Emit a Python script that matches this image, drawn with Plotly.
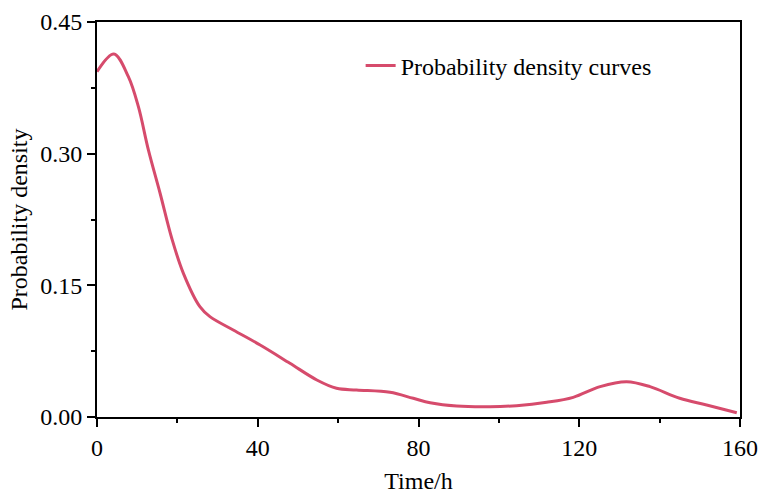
import plotly.graph_objects as go

time_h = [0, 4.2, 7.8, 10.3, 12.8, 15.7, 18.6, 21.5, 25.6, 28.1, 33.9, 40.6, 48.0, 54.7,
          59.6, 64.6, 72.9, 78.7, 82.9, 89.5, 97.8, 104.4, 111.9, 118.5, 125.2, 131.8,
          137.6, 145.0, 151.7, 159.2]
density = [0.3934, 0.4136, 0.3877, 0.3535, 0.304, 0.2549, 0.2036, 0.1637, 0.1257, 0.1143,
           0.0991, 0.082, 0.0612, 0.0422, 0.0327, 0.0308, 0.0281, 0.0213, 0.0163, 0.0125,
           0.0117, 0.0129, 0.0167, 0.0224, 0.0346, 0.0402, 0.0346, 0.0213, 0.0137, 0.0049]

x_ticks = [0, 40, 80, 120, 160]
y_ticks = [0.00, 0.15, 0.30, 0.45]
y_tick_labels = ["0.00", "0.15", "0.30", "0.45"]

FONT = "Liberation Serif, Times New Roman, serif"
FS = 24

fig = go.Figure()
fig.add_trace(go.Scatter(
    x=time_h, y=density, mode="lines", name="Probability density curves",
    line=dict(color="#D64B6C", width=3, shape="spline", smoothing=1.0),
))

axis_common = dict(
    showline=True, linecolor="black", linewidth=2, mirror=True,
    ticks="outside", ticklen=8, tickwidth=2, tickcolor="black",
    showgrid=False, zeroline=False, automargin=False,
    tickfont=dict(family=FONT, size=FS, color="black"),
    minor=dict(ticks="outside", ticklen=4, tickwidth=2, tickcolor="black", showgrid=False),
)

fig.update_xaxes(
    range=[0, 160], tickvals=x_ticks, minor_dtick=20,
    title=dict(text="Time/h", font=dict(family=FONT, size=FS, color="black"), standoff=22),
    **axis_common,
)
fig.update_yaxes(
    range=[0, 0.45], tickvals=y_ticks, ticktext=y_tick_labels, minor_dtick=0.075,
    title=dict(text="Probability density", font=dict(family=FONT, size=FS, color="black"), standoff=6),
    **axis_common,
)

fig.update_layout(
    width=760, height=494,
    margin=dict(l=97, r=20, t=22, b=77),
    plot_bgcolor="white", paper_bgcolor="white",
    showlegend=True,
    legend=dict(x=0.41, y=0.889, xanchor="left", yanchor="middle",
                bgcolor="rgba(0,0,0,0)",
                font=dict(family=FONT, size=FS, color="black")),
)

fig.write_html("out.html")
